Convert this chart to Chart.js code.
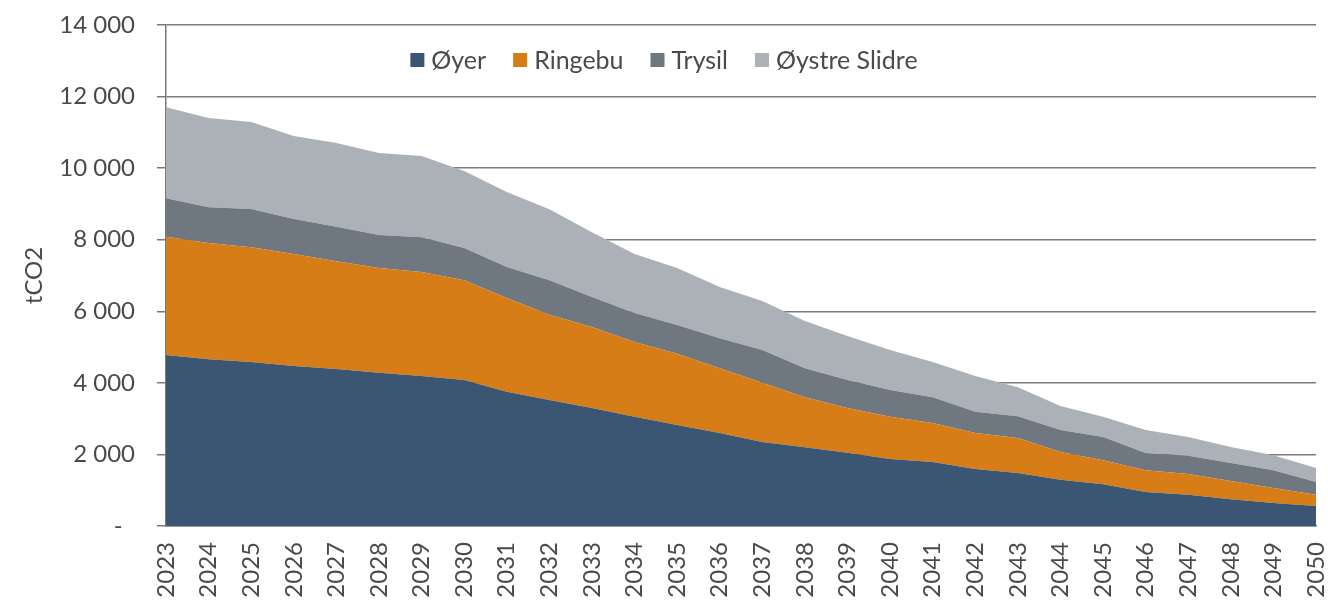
<!DOCTYPE html>
<html>
<head>
<meta charset="utf-8">
<script src="https://cdn.jsdelivr.net/npm/chart.js@4.4.0/dist/chart.umd.min.js"></script>
<style>
  html, body { margin: 0; padding: 0; background: #ffffff; }
  #wrap { width: 1328px; height: 603px; position: relative; }
</style>
</head>
<body>
<div id="wrap"><canvas id="c" width="1328" height="603"></canvas></div>
<script>
const years = [2023,2024,2025,2026,2027,2028,2029,2030,2031,2032,2033,2034,2035,2036,2037,2038,2039,2040,2041,2042,2043,2044,2045,2046,2047,2048,2049,2050];
const seriesNames = ["Øyer", "Ringebu", "Trysil", "Øystre Slidre"];
const oyer = [4780,4660,4580,4470,4390,4280,4190,4080,3750,3520,3300,3050,2820,2600,2350,2200,2050,1870,1790,1590,1480,1290,1170,950,870,750,640,560];
const ringebu = [3300,3250,3210,3130,3010,2930,2910,2790,2620,2380,2260,2090,1990,1810,1650,1400,1250,1180,1090,1010,980,780,670,610,580,510,420,310];
const trysil = [1080,1000,1070,980,960,920,970,900,870,970,840,810,810,840,920,810,780,750,720,590,610,610,650,480,510,500,500,360];
const oystreSlidre = [2540,2490,2430,2320,2340,2290,2270,2150,2090,1980,1810,1650,1590,1430,1370,1320,1230,1120,980,1000,810,670,560,640,530,450,420,390];
const yTicks = [0,2000,4000,6000,8000,10000,12000,14000];

const colors = ["#3a5673", "#d67d17", "#6f7780", "#abb1b7"];
const FONT = "Lato";
const textColor = "#4a4a4a";

function fmt(v) {
  if (v === 0) return "-\u00a0\u00a0";
  const s = String(v);
  return s.slice(0, s.length - 3) + " " + s.slice(-3);
}

const legendPlugin = {
  id: "insideLegend",
  afterDraw(chart) {
    const ctx = chart.ctx;
    ctx.save();
    ctx.font = "25px " + FONT;
    ctx.textBaseline = "middle";
    const box = 14, gapText = 7, gapItem = 27;
    const items = chart.data.datasets.map(d => ({ label: d.label, color: d.backgroundColor, w: ctx.measureText(d.label).width }));
    let total = 0;
    items.forEach((it, i) => { total += box + gapText + it.w + (i < items.length - 1 ? gapItem : 0); });
    let x = chart.width / 2 - total / 2;
    const y = 60;
    items.forEach(it => {
      ctx.fillStyle = it.color;
      ctx.fillRect(x, y - box / 2, box, box);
      ctx.fillStyle = textColor;
      ctx.textAlign = "left";
      ctx.fillText(it.label, x + box + gapText, y + 1);
      x += box + gapText + it.w + gapItem;
    });
    ctx.restore();
  }
};

const dataArrays = [oyer, ringebu, trysil, oystreSlidre];
const datasets = dataArrays.map((arr, i) => ({
  label: seriesNames[i],
  data: arr,
  backgroundColor: colors[i],
  borderColor: colors[i],
  borderWidth: 0,
  pointRadius: 0,
  tension: 0,
  fill: i === 0 ? "origin" : "-1"
}));

new Chart(document.getElementById("c"), {
  type: "line",
  data: { labels: years.map(String), datasets },
  options: {
    responsive: false,
    animation: false,
    layout: { padding: { top: 25, right: 12, left: 0, bottom: 0 } },
    plugins: {
      legend: { display: false },
      tooltip: { enabled: false },
      filler: { propagate: false }
    },
    scales: {
      x: {
        offset: false,
        grid: { display: false, drawTicks: false },
        border: { display: true, color: "#7a7a7a", width: 1.5 },
        ticks: {
          color: textColor,
          font: { family: FONT, size: 24 },
          minRotation: 90, maxRotation: 90,
          padding: 16,
          autoSkip: false
        },
        afterFit(scale) { scale.height = 77; scale.paddingRight = 0; scale.paddingLeft = 0; }
      },
      y: {
        stacked: true,
        min: 0, max: 14000,
        afterBuildTicks(scale) { scale.ticks = yTicks.map(v => ({ value: v })); },
        grid: { color: "#7a7a7a", lineWidth: 1.5, tickLength: 9, drawTicks: true },
        border: { display: true, color: "#7a7a7a", width: 1.5 },
        ticks: {
          color: textColor,
          font: { family: FONT, size: 24 },
          padding: 22,
          callback: (v) => fmt(v)
        },
        title: {
          display: true,
          text: "tCO2",
          color: textColor,
          font: { family: FONT, size: 24 },
          padding: { top: 20, bottom: 0 }
        },
        afterFit(scale) { scale.width = 166; scale.paddingTop = 0; scale.paddingBottom = 0; }
      }
    }
  },
  plugins: [legendPlugin]
});
</script>
</body>
</html>
